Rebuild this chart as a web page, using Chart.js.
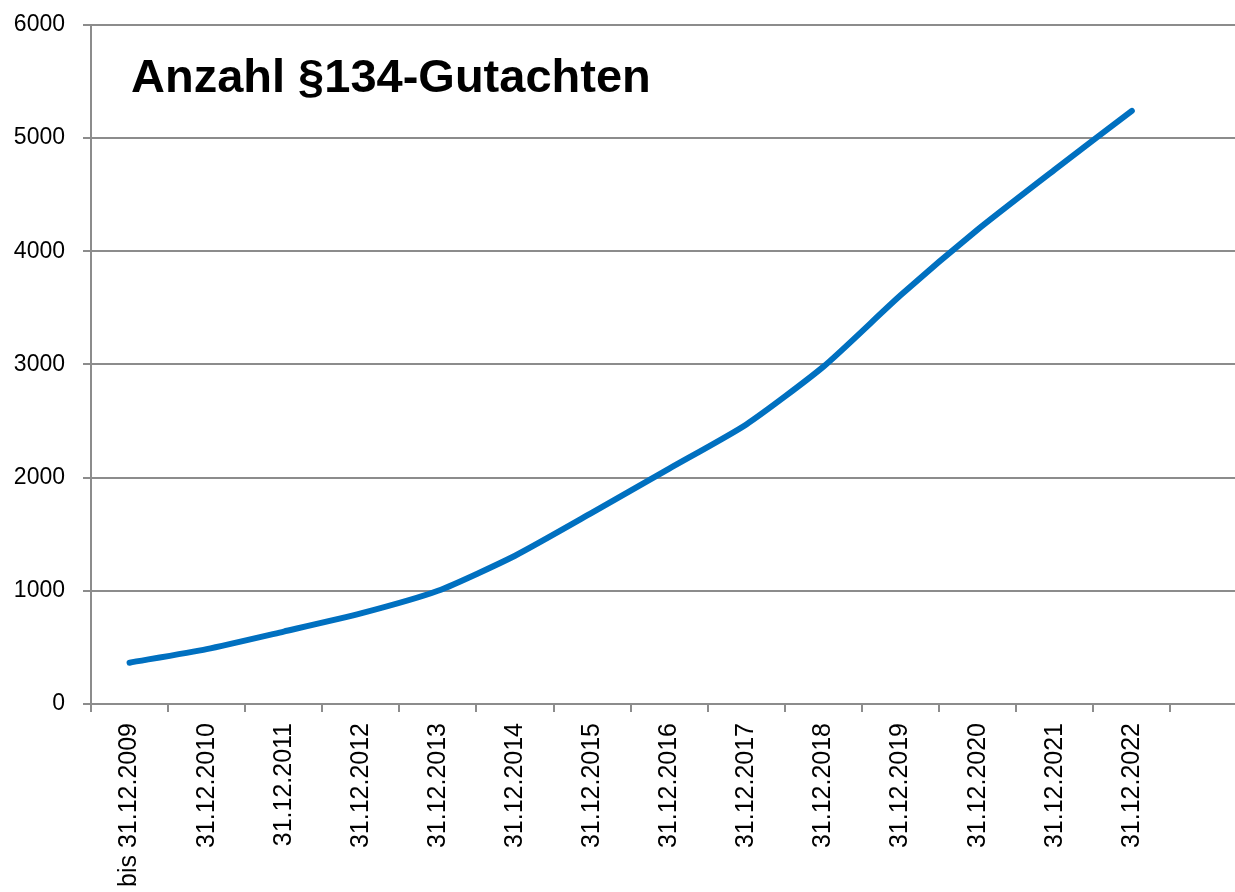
<!DOCTYPE html>
<html>
<head>
<meta charset="utf-8">
<script src="https://cdn.jsdelivr.net/npm/chart.js@4"></script>
<style>
    body { margin: 0; background: #fff; overflow: hidden; }
    #wrap { position: relative; width: 1250px; height: 892px; overflow: hidden; }
    #chart { position: absolute; left: 0; top: -7px; }
    #title {
        position: absolute; left: 131px; top: 52px;
        font-family: "Liberation Sans", Arial, sans-serif; font-weight: bold;
        font-size: 47px; line-height: 1; color: #000; white-space: nowrap;
    }
</style>
</head>
<body>
<div id="wrap">
    <canvas id="chart" width="1250" height="899"></canvas>
    <div id="title"></div>
</div>
<script>
const chartTitle = 'Anzahl §134-Gutachten';
const categories = ['bis 31.12.2009', '31.12.2010', '31.12.2011', '31.12.2012', '31.12.2013', '31.12.2014', '31.12.2015',
    '31.12.2016', '31.12.2017', '31.12.2018', '31.12.2019', '31.12.2020', '31.12.2021', '31.12.2022', ''];
const gutachten = [365, 485, 640, 800, 1000, 1310, 1690, 2080, 2470, 2980, 3610, 4190, 4720, 5240, null];
const yTicks = [0, 1000, 2000, 3000, 4000, 5000, 6000];

const gridColor = '#8c8c8c';

document.getElementById('title').textContent = chartTitle;

const ctx = document.getElementById('chart').getContext('2d');
new Chart(ctx, {
    type: 'line',
    data: {
        labels: categories,
        datasets: [{
            label: chartTitle,
            data: gutachten,
            borderColor: '#0070C0',
            borderWidth: 6,
            borderCapStyle: 'round',
            borderJoinStyle: 'round',
            pointRadius: 0,
            tension: 0.2,
            fill: false
        }]
    },
    options: {
        responsive: false,
        animation: false,
        layout: { padding: { top: 21, right: 2, left: 0, bottom: 0 } },
        plugins: {
            legend: { display: false },
            tooltip: { enabled: false }
        },
        scales: {
            x: {
                offset: true,
                grid: {
                    offset: true,
                    drawOnChartArea: false,
                    drawTicks: true,
                    tickLength: 8,
                    color: gridColor,
                    lineWidth: 2
                },
                border: { color: gridColor, width: 2 },
                ticks: {
                    autoSkip: false,
                    minRotation: 90,
                    maxRotation: 90,
                    padding: 11,
                    color: '#000',
                    font: { family: 'Liberation Sans', size: 25 }
                },
                afterFit: scale => { scale.height = 188; }
            },
            y: {
                min: 0,
                max: 6000,
                afterBuildTicks: scale => { scale.ticks = yTicks.map(v => ({ value: v })); },
                grid: {
                    color: gridColor,
                    lineWidth: 2,
                    tickLength: 8
                },
                border: { color: gridColor, width: 2 },
                ticks: {
                    padding: 18,
                    color: '#000',
                    font: { family: 'Liberation Sans', size: 23 },
                    callback: value => String(value)
                },
                afterFit: scale => { scale.width = 91; }
            }
        }
    }
});
</script>
</body>
</html>
